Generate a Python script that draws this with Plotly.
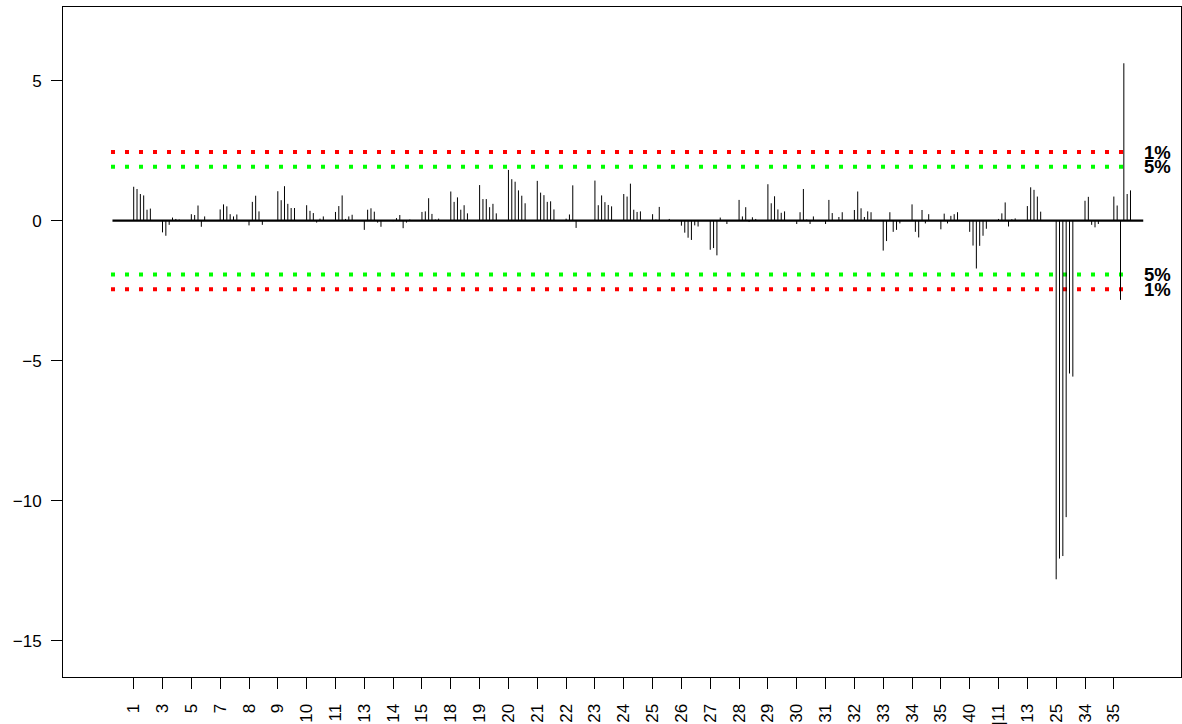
import plotly.graph_objects as go

# Group labels along the x axis (one group of six lags per label)
labels = ["1", "3", "5", "7", "8", "9", "10", "11", "13", "14", "15", "18",
          "19", "20", "21", "22", "23", "24", "25", "26", "27", "28", "29",
          "30", "31", "32", "33", "34", "35", "40", "|11", "|13", "|25",
          "|34", "|35"]

# Standardised values for each lag, one entry per group
lag1 = [1.21, -0.42, 0.23, 0.40, -0.17, 1.05, 0.55, 0.31, -0.33, -0.02, 0.31, 1.04,
        1.27, 1.81, 1.42, 0.07, 1.43, 0.95, 0.23, -0.18, -1.04, 0.74, 1.30,
        -0.12, -0.12, 0.38, -1.07, 0.58, -0.31, -0.40, 0.06, 0.52, -12.81,
        0.71, 0.86]
lag2 = [1.13, -0.54, 0.20, 0.58, 0.67, 0.73, 0.35, 0.52, 0.39, 0.09, 0.33, 0.67,
        0.77, 1.48, 1.00, 0.22, 0.55, 0.86, 0.04, -0.43, -0.98, 0.15, 0.62,
        0.30, 0.74, 1.04, -0.73, -0.40, 0.25, -0.89, 0.26, 1.19, -12.07,
        0.85, 0.54]
lag3 = [0.95, -0.15, 0.54, 0.51, 0.89, 1.23, 0.27, 0.90, 0.44, 0.20, 0.80, 0.83,
        0.77, 1.39, 0.91, 1.26, 0.90, 1.32, 0.49, -0.61, -1.24, 0.48, 0.87,
        1.13, 0.27, 0.44, 0.30, -0.60, -0.10, -1.71, 0.65, 1.10, -11.98,
        -0.15, -2.83]
lag4 = [0.90, 0.11, -0.22, 0.23, 0.33, 0.60, -0.07, 0.06, 0.32, -0.27, 0.24, 0.39,
        0.48, 1.08, 0.67, -0.26, 0.66, 0.39, 0.01, -0.69, 0.11, -0.05, 0.40,
        0.04, 0.00, 0.13, -0.40, 0.38, 0.17, -0.90, -0.21, 0.86, -10.59,
        -0.24, 5.62]
lag5 = [0.39, 0.06, 0.15, 0.15, -0.15, 0.45, 0.07, 0.15, -0.07, -0.07, 0.04, 0.55,
        0.60, 0.89, 0.69, 0.00, 0.56, 0.31, 0.00, -0.17, 0.00, 0.12, 0.28,
        -0.12, 0.13, 0.33, -0.33, -0.10, 0.23, -0.54, 0.05, 0.32, -5.46,
        -0.12, 0.95]
lag6 = [0.43, 0.04, 0.01, 0.22, 0.01, 0.45, 0.15, 0.21, -0.22, 0.04, 0.07, 0.26,
        0.26, 0.62, 0.40, 0.00, 0.51, 0.33, 0.06, -0.21, -0.12, 0.06, 0.33,
        0.15, 0.30, 0.30, -0.10, 0.23, 0.30, -0.29, 0.08, 0.00, -5.57,
        0.00, 1.08]

# Two-sided significance bounds drawn as dotted guide lines
crit_levels = [2.45, 1.92]
crit_names = ["1%", "5%"]
crit_colors = ["#FF0000", "#00FF00"]

lags = [lag1, lag2, lag3, lag4, lag5, lag6]
LAG_STEP = 0.1156  # horizontal offset between consecutive lags within a group
FONT = "Liberation Sans, Arial, sans-serif"

fig = go.Figure()

# dotted significance bands
for lvl, col in zip(crit_levels, crit_colors):
    for sign in (1, -1):
        fig.add_trace(go.Scatter(
            x=[0.213, 35.58], y=[sign * lvl, sign * lvl], mode="lines",
            line=dict(color=col, width=4, dash="4px,10px"),
            hoverinfo="skip"))

# needle bars
xs, ys = [], []
for k, lag in enumerate(lags):
    for g, v in enumerate(lag):
        x = (g + 1) + k * LAG_STEP
        xs += [x, x, None]
        ys += [0, v, None]
fig.add_trace(go.Scatter(x=xs, y=ys, mode="lines",
                         line=dict(color="black", width=1), hoverinfo="skip"))

# baseline
fig.add_trace(go.Scatter(x=[0.264, 36.02], y=[0, 0], mode="lines",
                         line=dict(color="black", width=2.3), hoverinfo="skip"))

# level labels at the right end of the guide lines
for lvl, name in zip(crit_levels, crit_names):
    for sign in (1, -1):
        fig.add_annotation(x=35.96, y=sign * lvl, text=name, showarrow=False,
                           xanchor="left", yanchor="middle",
                           font=dict(size=18.5, color="black", weight="bold",
                                     family=FONT))

axis_common = dict(showline=True, linecolor="black", linewidth=1, mirror=True,
                   ticks="outside", ticklen=11, tickcolor="black", tickwidth=1,
                   showgrid=False, zeroline=False, automargin=False,
                   tickfont=dict(size=17, color="black", family=FONT))

fig.update_layout(
    width=1182, height=724,
    margin=dict(l=63, r=1, t=7, b=47),
    plot_bgcolor="white", paper_bgcolor="white",
    showlegend=False,
    font=dict(family=FONT, size=17, color="black"),
    xaxis=dict(range=[-1.452, 37.33], tickmode="array",
               tickvals=list(range(1, len(labels) + 1)), ticktext=labels,
               tickangle=-90, ticklabelstandoff=8, **axis_common),
    yaxis=dict(range=[-16.30, 7.63], tickmode="array",
               tickvals=[-15, -10, -5, 0, 5],
               ticktext=["\u221215", "\u221210", "\u22125", "0", "5"],
               ticklabelstandoff=6, **axis_common),
)

fig.write_html("out.html")
